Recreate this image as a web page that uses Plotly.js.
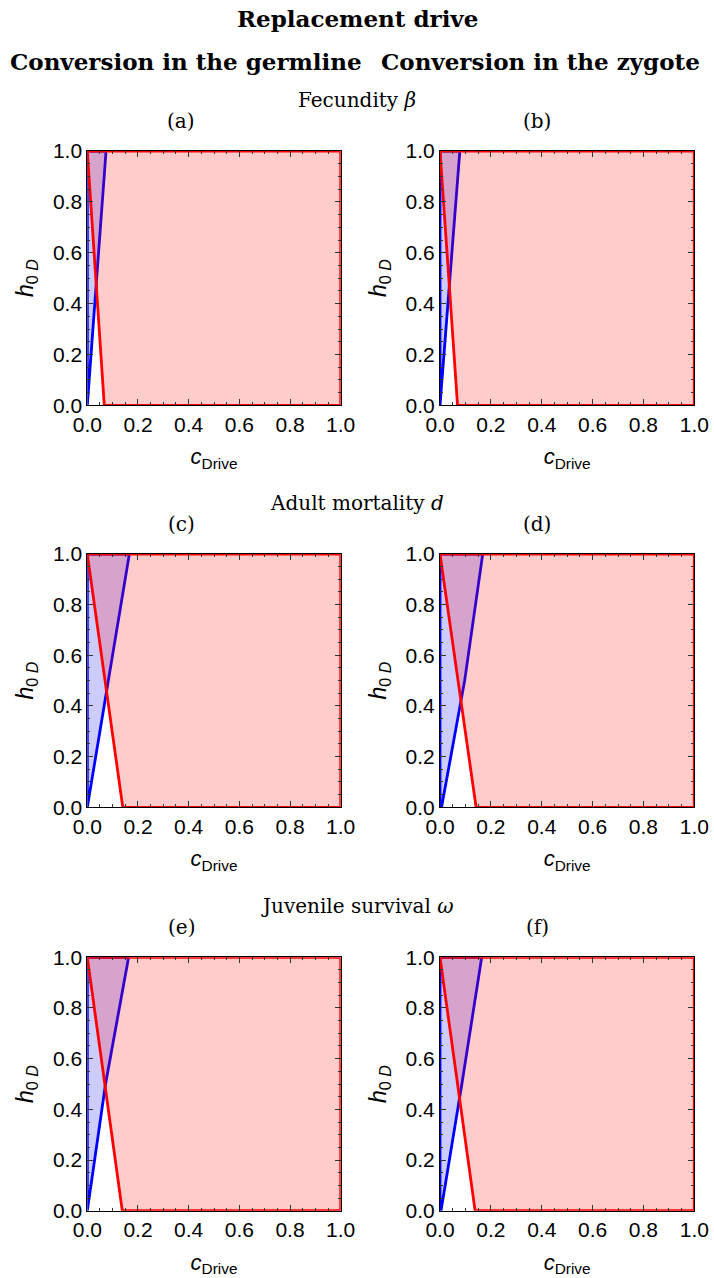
<!DOCTYPE html>
<html>
<head>
<meta charset="utf-8">
<script src="https://cdn.plot.ly/plotly-3.0.1.min.js"></script>
<style>html,body{margin:0;padding:0;background:#fff;}#chart{width:714px;height:1278px;}</style>
</head>
<body>
<div id="chart"></div>
<script>
// ---- Data ----
const panelLabels = ['(a)', '(b)', '(c)', '(d)', '(e)', '(f)'];
const rowTitles = ['Fecundity <i>β</i>', 'Adult mortality <i>d</i>', 'Juvenile survival <i>ω</i>'];
const colTitles = ['Conversion in the germline', 'Conversion in the zygote'];
const mainTitle = 'Replacement drive';
const tickVals = [0, 0.2, 0.4, 0.6, 0.8, 1.0];
const tickText = ['0.0', '0.2', '0.4', '0.6', '0.8', '1.0'];
const minorVals = [0.05, 0.1, 0.15, 0.25, 0.3, 0.35, 0.45, 0.5, 0.55, 0.65, 0.7, 0.75, 0.85, 0.9, 0.95];

// blue boundary: c_Drive values at h0D = hBlue
const hBlue = [0, 0.5, 1];
const cBlueA = [0, 0.036, 0.074];
const cBlueB = [0, 0.040, 0.078];
const cBlueC = [0, 0.082, 0.166];
const cBlueD = [0.006, 0.097, 0.168];
const cBlueE = [0, 0.072, 0.163];
const cBlueF = [0.004, 0.086, 0.164];
// red boundary: c_Drive values at h0D = hRed
const hRed = [1, 0];
const cRedA = [0, 0.067];
const cRedB = [0, 0.069];
const cRedC = [0, 0.140];
const cRedD = [0, 0.142];
const cRedE = [0, 0.138];
const cRedF = [0, 0.138];

const blueSets = [cBlueA, cBlueB, cBlueC, cBlueD, cBlueE, cBlueF];
const redSets = [cRedA, cRedB, cRedC, cRedD, cRedE, cRedF];

// ---- Layout geometry (pixels) ----
const W = 714, H = 1278;
const colLeft = [87.3, 440], colRight = [340.7, 694.3];
const rowTop = [151, 554, 957.3], rowBottom = [405.3, 807.3, 1210.7];
const colCenter = [186, 540];
const labelCenter = [181, 537];
const py = v => 1 - v / H;
const px = v => v / W;

const BLUE = 'rgb(0,0,255)', RED = 'rgb(255,0,0)';
const sans = 'Liberation Sans, Arial, sans-serif';
const serif = 'DejaVu Serif, serif';
const traces = [];
const layout = {
  width: W, height: H,
  margin: {l: 0, r: 0, t: 0, b: 0},
  paper_bgcolor: '#fff', plot_bgcolor: '#fff',
  showlegend: false,
  annotations: [],
  font: {family: sans, color: '#000'}
};

layout.annotations.push({text: '<b>' + mainTitle + '</b>', x: 0.5, y: py(19), xref: 'paper', yref: 'paper',
  xanchor: 'center', yanchor: 'middle', showarrow: false, font: {family: serif, size: 23, color: '#000'}});
colTitles.forEach((t, i) => layout.annotations.push({text: '<b>' + t + '</b>', x: px(colCenter[i]), y: py(61),
  xref: 'paper', yref: 'paper', xanchor: 'center', yanchor: 'middle', showarrow: false,
  font: {family: serif, size: 23, color: '#000'}}));

for (let k = 0; k < 6; k++) {
  const r = Math.floor(k / 2), c = k % 2;
  const n = k + 1;
  const xa = 'x' + (n === 1 ? '' : n), ya = 'y' + (n === 1 ? '' : n);
  const bc = blueSets[k], rc = redSets[k];
  // blue region: left of blue boundary
  traces.push({
    type: 'scatter', mode: 'lines', xaxis: xa, yaxis: ya,
    x: [0].concat(bc, [0, 0]), y: [0].concat(hBlue, [1, 0]),
    fill: 'toself', fillcolor: 'rgba(0,0,255,0.2)',
    line: {color: BLUE, width: 2.8}, hoverinfo: 'skip'
  });
  // red region: right of red boundary
  traces.push({
    type: 'scatter', mode: 'lines', xaxis: xa, yaxis: ya,
    x: rc.concat([1, 1, rc[0]]), y: hRed.concat([0, 1, hRed[0]]),
    fill: 'toself', fillcolor: 'rgba(255,0,0,0.2)',
    line: {color: RED, width: 2.8}, hoverinfo: 'skip'
  });
  const axBase = {
    range: [0, 1], showgrid: false, zeroline: false,
    showline: true, linecolor: '#000', linewidth: 1, mirror: 'allticks',
    ticks: 'inside', ticklen: 6, tickwidth: 1, tickcolor: '#333',
    tickvals: tickVals, ticktext: tickText,
    minor: {tickvals: minorVals, ticks: 'inside', ticklen: 3, tickcolor: '#333', tickwidth: 1},
    tickfont: {family: sans, size: 21, color: '#000'},
    fixedrange: true, layer: 'above traces'
  };
  layout['xaxis' + (n === 1 ? '' : n)] = Object.assign({}, axBase, {
    domain: [px(colLeft[c]), px(colRight[c])], anchor: ya,
    title: {text: '<i>c</i><sub>Drive</sub>', font: {family: sans, size: 22, color: '#000'}, standoff: 14}
  });
  layout['yaxis' + (n === 1 ? '' : n)] = Object.assign({}, axBase, {
    domain: [py(rowBottom[r]), py(rowTop[r])], anchor: xa,
    title: {text: '<i>h</i><sub>0 <i>D</i></sub>', font: {family: sans, size: 23, color: '#000'}, standoff: 12}
  });
  layout.annotations.push({text: panelLabels[k], x: px(labelCenter[c]), y: py(rowTop[r] - 30),
    xref: 'paper', yref: 'paper', xanchor: 'center', yanchor: 'middle', showarrow: false,
    font: {family: serif, size: 20, color: '#000'}});
}
rowTitles.forEach((t, r) => layout.annotations.push({text: t, x: 0.5, y: py(rowTop[r] - 51),
  xref: 'paper', yref: 'paper', xanchor: 'center', yanchor: 'middle', showarrow: false,
  font: {family: serif, size: 20, color: '#000'}}));

Plotly.newPlot('chart', traces, layout, {staticPlot: true, displayModeBar: false});
</script>
</body>
</html>
